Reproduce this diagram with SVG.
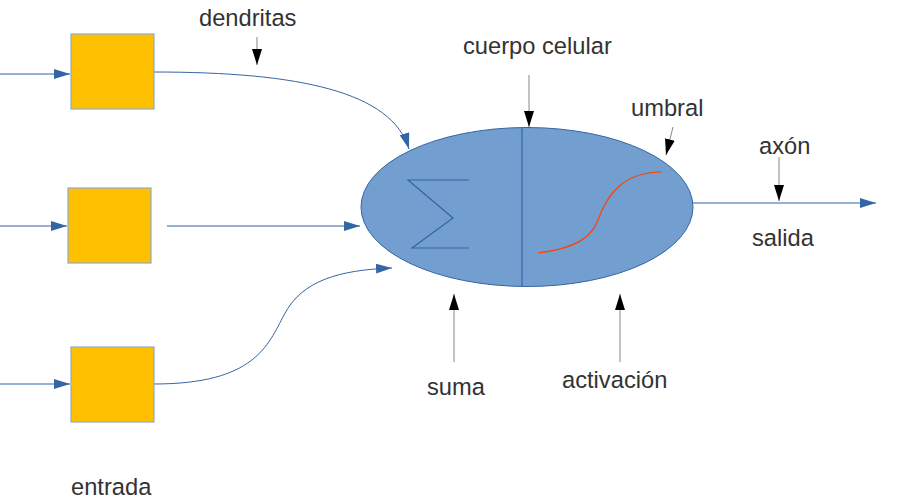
<svg xmlns="http://www.w3.org/2000/svg" width="915" height="504" viewBox="0 0 915 504">
<defs>
<style>
.box{fill:#FFC000;stroke:#8fa9cf;stroke-width:1.2}
.conn{fill:none;stroke:#3465A4;stroke-width:1}
.lbl{fill:none;stroke:#888888;stroke-width:1}
.t{font-family:"Liberation Sans",Arial,sans-serif;font-size:23.7px;fill:#333333}
</style>
<marker id="ab" viewBox="0 0 16 10" refX="16" refY="5" markerWidth="16" markerHeight="10" markerUnits="userSpaceOnUse" orient="auto">
<path d="M0,0 L16,5 L0,10 z" fill="#3465A4"/>
</marker>
<marker id="ak" viewBox="0 0 16 10" refX="16" refY="5" markerWidth="16" markerHeight="10" markerUnits="userSpaceOnUse" orient="auto">
<path d="M0,0 L16,5 L0,10 z" fill="#000000"/>
</marker>
</defs>
<rect width="915" height="504" fill="#ffffff"/>
<g id="connectors">
<line class="conn" x1="0" y1="74" x2="70" y2="74" marker-end="url(#ab)"/>
<line class="conn" x1="0" y1="226" x2="67" y2="226" marker-end="url(#ab)"/>
<line class="conn" x1="0" y1="384" x2="70" y2="384" marker-end="url(#ab)"/>
<path class="conn" d="M154,72 C300,72 392,92 409,149" marker-end="url(#ab)"/>
<line class="conn" x1="167" y1="226" x2="360" y2="226" marker-end="url(#ab)"/>
<path class="conn" d="M154,384 C255,384 268,345 284,315 C302,280 340,270 392,268" marker-end="url(#ab)"/>
<line class="conn" x1="693" y1="203" x2="876" y2="203" marker-end="url(#ab)"/>
<line class="lbl" x1="257" y1="37" x2="257" y2="65" marker-end="url(#ak)"/>
<line class="lbl" x1="529" y1="75" x2="529" y2="127" marker-end="url(#ak)"/>
<line class="lbl" x1="673" y1="127" x2="666" y2="155" marker-end="url(#ak)"/>
<line class="lbl" x1="779" y1="157" x2="779" y2="201" marker-end="url(#ak)"/>
<line class="lbl" x1="454" y1="362" x2="454" y2="294" marker-end="url(#ak)"/>
<line class="lbl" x1="620" y1="362" x2="620" y2="294" marker-end="url(#ak)"/>
</g>
<g id="entrada1"><rect class="box" x="71" y="34" width="83" height="75"/></g>
<g id="entrada2"><rect class="box" x="68" y="188" width="83" height="75"/></g>
<g id="entrada3"><rect class="box" x="71" y="347" width="83" height="75"/></g>
<g id="neurona">
<ellipse cx="527" cy="207" rx="166" ry="79.5" fill="#729FCF" stroke="#3465A4" stroke-width="1"/>
<line x1="522" y1="128" x2="522" y2="286" stroke="#3465A4" stroke-width="1.2"/>
<path d="M469,180 L408,180 L453,218 L412,248 L469,248" fill="none" stroke="#3465A4" stroke-width="1.2"/>
<path d="M538,253 C578,248 592,236 598,220 C608,192 625,172 662,172" fill="none" stroke="#FF4000" stroke-width="1.2"/>
</g>
<g id="labels">
<text class="t" x="199" y="26">dendritas</text>
<text class="t" x="463" y="54">cuerpo celular</text>
<text class="t" x="631" y="116">umbral</text>
<text class="t" x="759" y="154">axón</text>
<text class="t" x="752" y="246">salida</text>
<text class="t" x="427" y="395">suma</text>
<text class="t" x="562" y="388">activación</text>
<text class="t" x="71" y="495">entrada</text>
</g>
</svg>
